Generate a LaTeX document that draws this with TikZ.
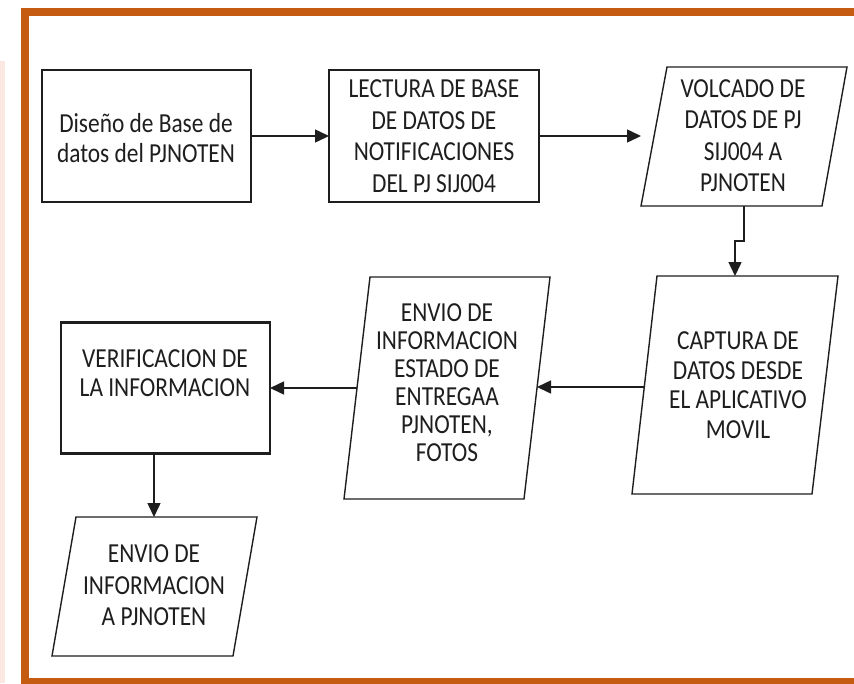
\documentclass[tikz,border=0pt]{standalone}
\usepackage{fontspec}
\setmainfont{Carlito}
\newfontfamily\boxfont{Carlito}[FakeStretch=0.85]
\usetikzlibrary{arrows.meta}
\definecolor{frameorange}{HTML}{C55A11}
\definecolor{pinkstrip}{HTML}{FBE9E1}
\definecolor{inkgray}{HTML}{1E1E1E}
\begin{document}
\begin{tikzpicture}[x=1pt,y=-1pt,
  procbox/.style={draw=inkgray, line width=2.2pt, inner sep=0pt, outer sep=0pt},
  txt/.style={font={\boxfont\fontsize{27.5}{#1}\selectfont}, align=center, inner sep=0pt, text=inkgray},
  txt/.default=30,
  para/.style={draw=inkgray, line width=1.4pt, line join=miter},
  link/.style={draw=inkgray, line width=1.5pt, -{Triangle[length=14pt,width=13pt]}},
  frame/.style={draw=frameorange, line width=8pt}
]
\useasboundingbox (0,0) rectangle (854,683);
\clip (0,0) rectangle (854,683);
\fill[white] (0,0) rectangle (854,683);
\fill[pinkstrip] (0,61) rectangle (5,683);
\draw[frame] (880,12.3) -- (25,12.3) -- (25,682) -- (880,682);

% rectangles
\node[procbox, minimum width=209pt, minimum height=132pt] (b1) at (146.5,136) {};
\node[procbox, minimum width=210pt, minimum height=132pt] (b2) at (434,136) {};
\node[procbox, minimum width=209pt, minimum height=131pt] (b6) at (165.5,388) {};

% parallelograms
\draw[para] (667,67) -- (847,67) -- (822,206) -- (641,206) -- cycle;
\draw[para] (657,276) -- (838,276) -- (812,494) -- (632,494) -- cycle;
\draw[para] (370,277) -- (550,277) -- (524,499) -- (344,499) -- cycle;
\draw[para] (76,517) -- (257,517) -- (233,656) -- (52,656) -- cycle;

% texts
\node[txt=30] (t1) at (146,138) {Diseño de Base de\\datos del PJNOTEN};
\node[txt=31.5] (t2) at (434,136) {LECTURA DE BASE\\DE DATOS DE\\NOTIFICACIONES\\DEL PJ SIJ004};
\node[txt=31.5] (t3) at (743,135.5) {VOLCADO DE\\DATOS DE PJ\\SIJ004 A\\PJNOTEN};
\node[txt=29.5] (t4) at (738,385) {CAPTURA DE\\DATOS DESDE\\EL APLICATIVO\\MOVIL};
\node[txt=28] (t5) at (447,383) {ENVIO DE\\INFORMACION\\ESTADO DE\\ENTREGAA\\PJNOTEN,\\FOTOS};
\node[txt=29] (t6) at (165,373.5) {VERIFICACION DE\\LA INFORMACION};
\node[txt=31.5] (t7) at (154,585.5) {ENVIO DE\\INFORMACION\\A PJNOTEN};

% connector anchors on parallelograms
\coordinate (p3w) at (641,136);
\coordinate (p3s) at (744,206);
\coordinate (j1) at (744,241);
\coordinate (j2) at (735,241);
\coordinate (p4n) at (735,276);
\coordinate (p4w) at (644,387);
\coordinate (p5e) at (537,387);
\coordinate (p5w) at (357,388);
\coordinate (p7n) at (154,517);

% connectors
\draw[link] (b1.east) -- (b2.west);
\draw[link] (b2.east) -- (p3w);
\draw[link] (p3s) -- (j1) -- (j2) -- (p4n);
\draw[link] (p4w) -- (p5e);
\draw[link] (p5w) -- (b6.east);
\draw[link] (p7n |- b6.south) -- (p7n);
\end{tikzpicture}
\end{document}
